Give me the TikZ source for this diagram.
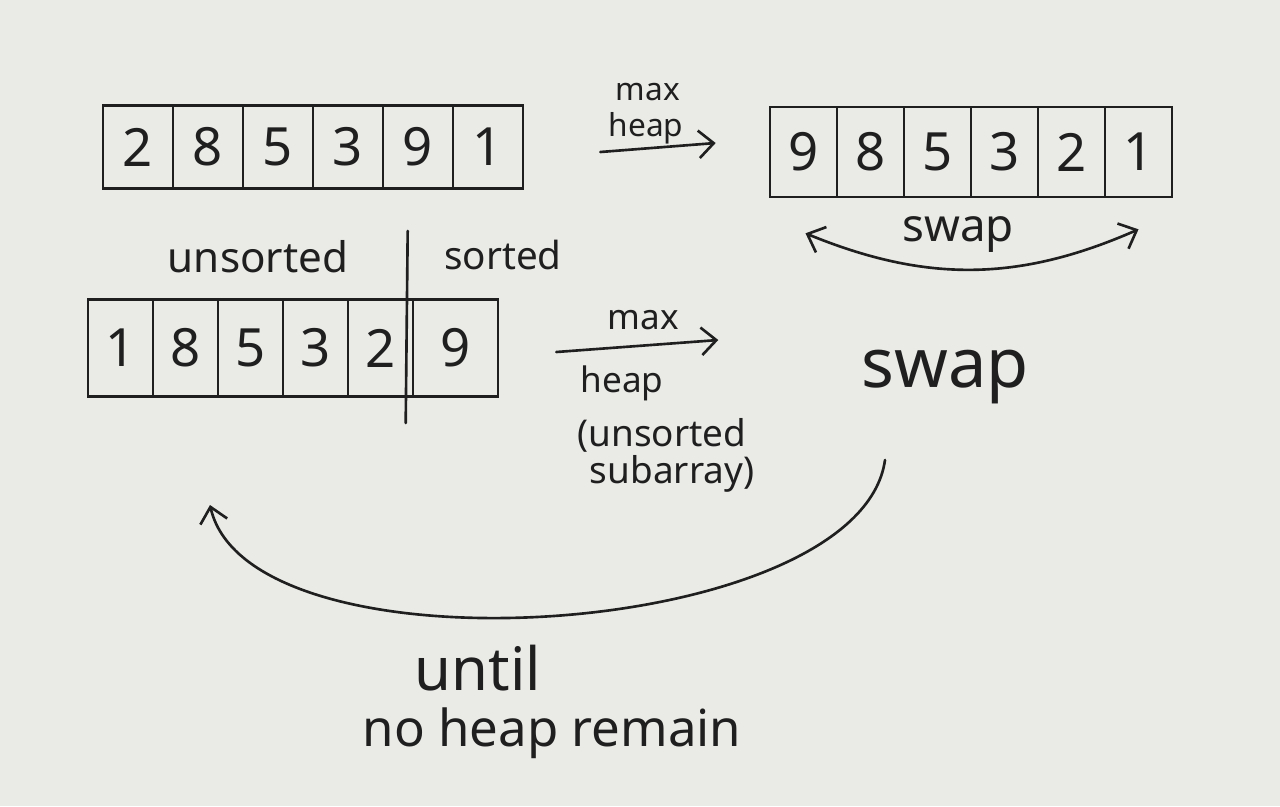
\documentclass[tikz,border=0pt]{standalone}
\usepackage{fontspec}
\setmainfont{Noto Sans}
\usetikzlibrary{calc, arrows.meta}
\definecolor{paper}{HTML}{EAEAE7}
\definecolor{ink}{HTML}{1F1F1F}

\begin{document}
\begin{tikzpicture}[x=0.02cm, y=-0.02cm, >={Straight Barb[length=3mm, width=5.5mm]},
    cell/.style={draw=ink, line width=1.5pt, inner sep=0pt, text=ink,
                 font=\fontsize{30}{36}\selectfont},
    note/.style={text=ink, inner sep=0pt},
    pen/.style={draw=ink, line width=1.5pt, line cap=round}]
    \fill[paper] (0,0) rectangle (1280,806);
    \useasboundingbox (0,0) rectangle (1280,806);
    % input array
    \foreach \v [count=\i] in {2,8,5,3,9,1}
      \node[cell, minimum width=1.4cm, minimum height=1.66cm] (a\i) at ({68+70*\i},147) {\v};
    % after max heap
    \foreach \v [count=\i] in {9,8,5,3,2,1}
      \node[cell, minimum width=1.34cm, minimum height=1.8cm] (b\i) at ({736.5+67*\i},152) {\v};
    % unsorted part | sorted part
    \foreach \v [count=\i] in {1,8,5,3,2}
      \node[cell, minimum width=1.3cm, minimum height=1.95cm] (c\i) at ({55.5+65*\i},348) {\v};
    \node[cell, minimum width=1.7cm, minimum height=1.95cm] (c6) at (455.5,348) {9};
    \draw[pen] ($(c6.north west)+(-4,-67)$) -- ($(c6.south west)+(-6,25)$);
    \node[note, font=\fontsize{24}{28}\selectfont] (unsorted) at (258,257) {unsorted};
    \node[note, font=\fontsize{22}{26}\selectfont] (sorted) at (503,255) {sorted};

    \draw[pen, ->] ($(a6.east)+(76,5)$) -- ($(b1.west)+(-53,-9)$);
    \node[note, font=\fontsize{18}{22}\selectfont] (max1) at (648,92) {max};
    \node[note, font=\fontsize{18}{22}\selectfont] (heap1) at (646,128) {heap};

    \draw[pen, <->] ($(b1.south)+(2,35)$) to[bend right=23] ($(b6.south)+(0,31)$);
    \node[note, font=\fontsize{26}{30}\selectfont] (swap1) at (958,234) {swap};

    \draw[pen, ->] ($(c6.east)+(57,4)$) -- ($(c6.east)+(219,-8)$);
    \node[note, font=\fontsize{20}{24}\selectfont] (max2) at (643,320) {max};
    \node[note, font=\fontsize{20}{24}\selectfont] (heap2) at (622,383) {heap};
    \node[note, font=\fontsize{21}{24}\selectfont] (unsub) at (662,435) {(unsorted};
    \node[note, font=\fontsize{21}{24}\selectfont] (subarr) at (672,474) {subarray)};
    \node[note, font=\fontsize{39}{44}\selectfont] (swap2) at (945,377) {swap};

    \coordinate (loopstart) at (885,460);
    \coordinate (loopend) at (210,505);
    \draw[pen, ->] (loopstart) .. controls (860,640) and (250,680) .. (loopend);
    \node[note, font=\fontsize{34}{40}\selectfont] (until) at (478,668) {until};
    \node[note, font=\fontsize{29}{34}\selectfont] (remain) at (552,733) {no heap remain};
\end{tikzpicture}
\end{document}
